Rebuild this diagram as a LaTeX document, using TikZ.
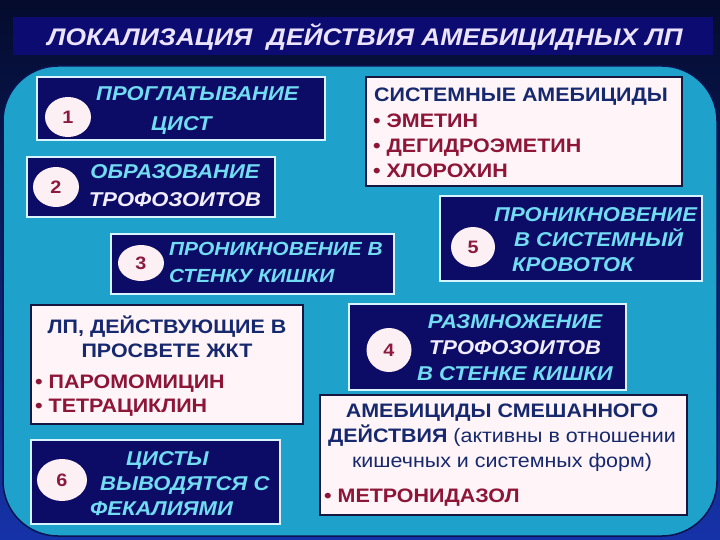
\documentclass[tikz,border=0pt]{standalone}
\usepackage{fontspec}
\setmainfont{Liberation Sans}[FakeStretch=1.1]
\usetikzlibrary{shapes.geometric}
\definecolor{bgtop}{HTML}{040B2C}
\definecolor{bgbot}{HTML}{1632A8}
\definecolor{panelcyan}{HTML}{1EA2CC}
\definecolor{paneledge}{HTML}{0B1450}
\definecolor{titlebar}{HTML}{0B0B72}
\definecolor{titletext}{HTML}{ECE4FF}
\definecolor{navyfill}{HTML}{0C0C66}
\definecolor{navyedge}{HTML}{D8F4FF}
\definecolor{cyantext}{HTML}{72DCF2}
\definecolor{whitetext}{HTML}{F2ECFF}
\definecolor{paper}{HTML}{FFF4F8}
\definecolor{paperedge}{HTML}{161640}
\definecolor{headblue}{HTML}{17296E}
\definecolor{drugred}{HTML}{8C1538}
\definecolor{discfill}{HTML}{FDF0F4}
\definecolor{discnum}{HTML}{8C1A40}
\tikzset{
    navybox/.style={draw=navyedge, line width=1.6pt, fill=navyfill},
    paperbox/.style={draw=paperedge, line width=1.6pt, fill=paper},
    disc/.style={ellipse, fill=discfill, minimum width=46, minimum height=40, inner sep=0pt,
        text=discnum, font=\bfseries\fontsize{18}{20}\selectfont},
    navytext/.style={text=cyantext, font=\bfseries\itshape\fontsize{20}{#1}\selectfont, inner sep=0pt},
    headtext/.style={text=headblue, align=center, font=\bfseries\fontsize{19.5}{#1}\selectfont, inner sep=0pt},
    drugtext/.style={text=drugred, align=left, anchor=west, font=\bfseries\fontsize{19.5}{#1}\selectfont, inner sep=0pt}
}
\begin{document}
\begin{tikzpicture}[x=1pt, y=-1pt]
    \useasboundingbox (0,0) rectangle (720,540);
    \shade[top color=bgtop, bottom color=bgbot] (0,0) rectangle (720,540);
    \fill[titlebar] (13,17) rectangle (713,55);
    \node[text=titletext, font=\bfseries\itshape\fontsize{24}{28}\selectfont] (title) at (365,37) {ЛОКАЛИЗАЦИЯ\ \ ДЕЙСТВИЯ АМЕБИЦИДНЫХ ЛП};
    \draw[draw=paneledge, line width=1.5pt, fill=panelcyan, rounded corners=55] (3,300) -- (3,66) -- (717,66) -- (717,536) -- (3,536) -- cycle;

    \node[navybox, minimum width=288, minimum height=63] (b1) at (181,108.5) {};
    \node[disc] (n1) at (68,117) {1};
    \node[navytext=30, align=left, anchor=west] (t1) at (96,111) {ПРОГЛАТЫВАНИЕ\\\hspace*{55pt}ЦИСТ};

    \node[navybox, minimum width=248, minimum height=60] (b2) at (151,187) {};
    \node[disc] (n2) at (56,187) {2};
    \node[navytext=28, align=center] (t2) at (175,186) {ОБРАЗОВАНИЕ\\\textcolor{whitetext}{ТРОФОЗОИТОВ}};

    \node[navybox, minimum width=283, minimum height=60] (b3) at (252.5,264) {};
    \node[disc, minimum height=36] (n3) at (141,263) {3};
    \node[navytext=27, align=left, anchor=west, font=\bfseries\itshape\fontsize{19}{27}\selectfont] (t3) at (169,262) {ПРОНИКНОВЕНИЕ В\\СТЕНКУ КИШКИ};

    \node[paperbox, minimum width=316, minimum height=109] (w1) at (524,131.5) {};
    \node[headtext=24] (h1) at (521,97) {СИСТЕМНЫЕ АМЕБИЦИДЫ};
    \node[drugtext=25] (d1) at (373,145.5) {• ЭМЕТИН\\• ДЕГИДРОЭМЕТИН\\• ХЛОРОХИН};

    \node[navybox, minimum width=262, minimum height=85] (b5) at (571,238.5) {};
    \node[disc, minimum width=44] (n5) at (473,247) {5};
    \node[navytext=25, align=left, anchor=west] (t5) at (494,240) {ПРОНИКНОВЕНИЕ\\\hspace*{20pt}В СИСТЕМНЫЙ\\\hspace*{18pt}КРОВОТОК};

    \node[paperbox, minimum width=272, minimum height=119] (w2) at (167,364.5) {};
    \node[headtext=24] (h2) at (167,337) {ЛП, ДЕЙСТВУЮЩИЕ В\\ПРОСВЕТЕ ЖКТ};
    \node[drugtext=24] (d2) at (35,396) {• ПАРОМОМИЦИН\\• ТЕТРАЦИКЛИН};

    \node[navybox, minimum width=277, minimum height=86] (b4) at (487.5,347) {};
    \node[disc, minimum width=45, minimum height=44] (n4) at (389,350) {4};
    \node[navytext=26, align=center] (t4) at (515,348) {РАЗМНОЖЕНИЕ\\\textcolor{whitetext}{ТРОФОЗОИТОВ}\\В СТЕНКЕ КИШКИ};

    \node[navybox, minimum width=249, minimum height=84] (b6) at (155.5,482) {};
    \node[disc, minimum width=50, minimum height=42] (n6) at (62,480) {6};
    \node[navytext=25, align=left, anchor=west] (t6) at (90,484) {\hspace*{36pt}ЦИСТЫ\\\hspace*{10pt}ВЫВОДЯТСЯ С\\ФЕКАЛИЯМИ};

    \node[paperbox, minimum width=367, minimum height=120] (w3) at (503.5,455) {};
    \node[headtext=25] (h3) at (502,438) {АМЕБИЦИДЫ СМЕШАННОГО\\ДЕЙСТВИЯ {\mdseries (активны в отношении}\\{\mdseries кишечных и системных форм)}};
    \node[drugtext=24] (d3) at (324,498) {• МЕТРОНИДАЗОЛ};
\end{tikzpicture}
\end{document}
